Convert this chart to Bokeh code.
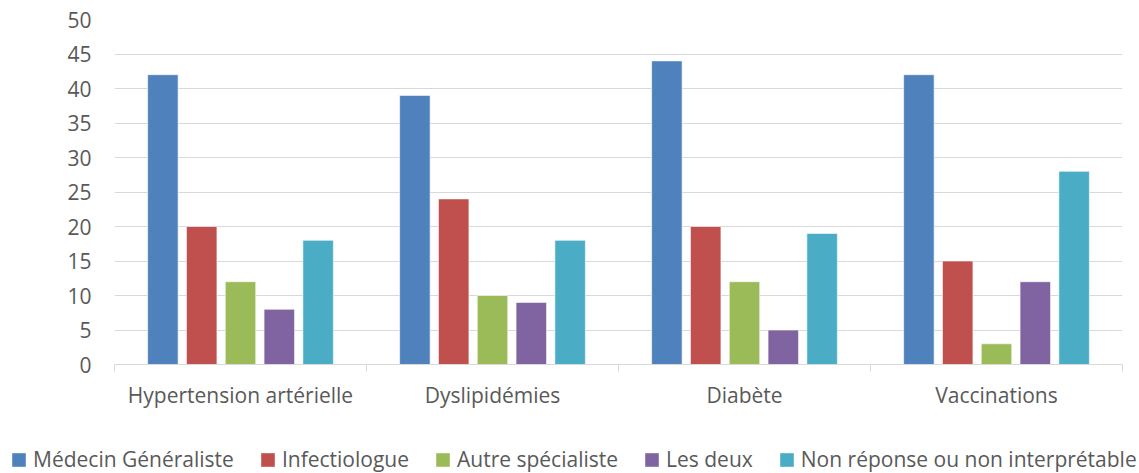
import numpy as np
from bokeh.plotting import figure
from bokeh.layouts import column
from bokeh.models import ColumnDataSource, FixedTicker, Legend, LegendItem, Range1d
from bokeh.transform import dodge
from bokeh.embed import file_html
from bokeh.resources import INLINE

categories = ["Hypertension artérielle", "Dyslipidémies", "Diabète", "Vaccinations"]
series_names = ["Médecin Généraliste", "Infectiologue", "Autre spécialiste", "Les deux",
                "Non réponse ou non interprétable"]
medecin = [42, 39, 44, 42]
infectio = [20, 24, 20, 15]
autre = [12, 10, 12, 3]
deux = [8, 9, 5, 12]
non_rep = [18, 18, 19, 28]
colors = ["#4F81BD", "#C0504D", "#9BBB59", "#8064A2", "#4BACC6"]
y_ticks = list(range(0, 51, 5))

FONT = "Open Sans"
TXT = "#595959"
GRID = "#D9D9D9"

xc = [i + 0.5 for i in range(len(categories))]
src = ColumnDataSource(dict(x=xc, s0=medecin, s1=infectio, s2=autre, s3=deux, s4=non_rep))

p = figure(width=1139, height=436, min_border_left=114, min_border_right=17,
           min_border_top=19, min_border_bottom=72,
           x_range=Range1d(0, len(categories)), y_range=Range1d(0, 50),
           output_backend="svg", toolbar_location=None, background_fill_color="white",
           border_fill_color="white")
p.outline_line_color = None
p.frame_align = False

step = 0.154
for k, key in enumerate(["s0", "s1", "s2", "s3", "s4"]):
    p.vbar(x=dodge("x", (k - 2) * step, range=p.x_range), top=key, width=0.121,
           source=src, fill_color=colors[k], line_color="white", line_width=0.6)

# x axis
xa = p.xaxis[0]
xa.ticker = FixedTicker(ticks=xc, minor_ticks=list(range(len(categories) + 1)))
xa.major_label_overrides = {c: lab for c, lab in zip(xc, categories)}
xa.major_tick_line_color = None
xa.major_tick_out = 0
xa.major_tick_in = 0
xa.minor_tick_line_color = GRID
xa.minor_tick_out = 7
xa.minor_tick_in = 0
xa.axis_line_color = GRID
xa.axis_line_width = 1
xa.major_label_text_font = FONT
xa.major_label_text_font_size = "21px"
xa.major_label_text_color = TXT
xa.major_label_standoff = 9

# y axis
ya = p.yaxis[0]
ya.ticker = FixedTicker(ticks=y_ticks)
ya.axis_line_color = None
ya.major_tick_line_color = None
ya.minor_tick_line_color = None
ya.major_label_text_font = FONT
ya.major_label_text_font_size = "21px"
ya.major_label_text_color = TXT
ya.major_label_standoff = 17

p.xgrid.grid_line_color = None
p.ygrid.grid_line_color = GRID
p.ygrid.grid_line_width = 1
p.ygrid.ticker = FixedTicker(ticks=y_ticks)

# legend strip spanning the full width
lg = figure(width=1139, height=37, min_border_left=0, min_border_right=0,
            min_border_top=0, min_border_bottom=0, x_axis_type=None, y_axis_type=None,
            x_range=Range1d(0, 1), y_range=Range1d(0, 1),
            output_backend="svg", toolbar_location=None, background_fill_color="white",
            border_fill_color="white")
lg.outline_line_color = None
lg.grid.grid_line_color = None
lg.frame_align = False
items = []
for k, name in enumerate(series_names):
    r = lg.vbar(x=[0.5], top=[0], bottom=[0], width=0.0, fill_color=colors[k], line_color=None)
    items.append(LegendItem(label=name, renderers=[r]))

legend = Legend(items=items, orientation="horizontal", location=(10, 0),
                label_text_font=FONT, label_text_font_size="21px", label_text_color=TXT,
                glyph_width=17, glyph_height=17, label_standoff=6, spacing=25,
                padding=0, margin=0, border_line_color=None, background_fill_alpha=0)
lg.add_layout(legend, "center")

layout = column(p, lg, spacing=0)
open("out.html", "w").write(file_html(layout, INLINE))
